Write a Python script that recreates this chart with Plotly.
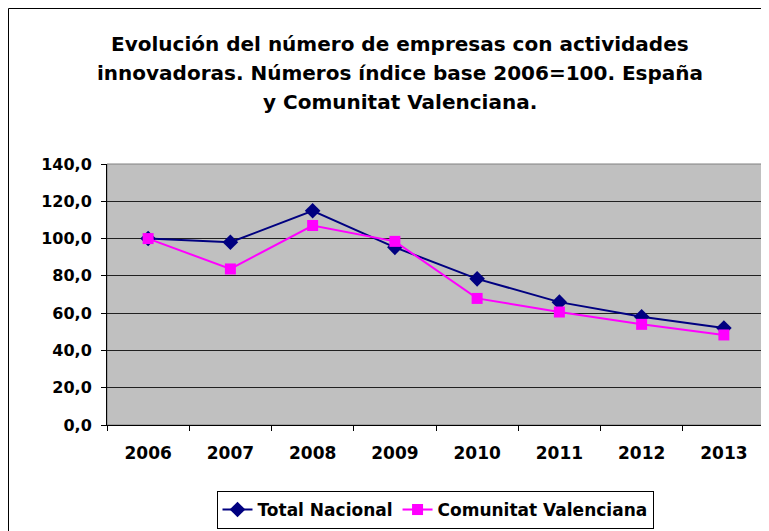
import plotly.graph_objects as go

years = ["2006", "2007", "2008", "2009", "2010", "2011", "2012", "2013"]
total_nacional = [100.0, 98.0, 114.9, 95.3, 78.4, 65.9, 58.1, 52.0]
comunitat_valenciana = [100.0, 83.7, 107.0, 98.5, 67.9, 60.6, 54.0, 48.3]
y_ticks = [0, 20, 40, 60, 80, 100, 120, 140]
y_tick_labels = ["0,0", "20,0", "40,0", "60,0", "80,0", "100,0", "120,0", "140,0"]
title_lines = [
    "Evolución del número de empresas con actividades",
    "innovadoras. Números índice base 2006=100. España",
    "y Comunitat Valenciana.",
]

OFF = 8  # page body margin
W, H = 769 - OFF, 531 - OFF
# plot area in screen coordinates
SX0, SX1, SY0, SY1 = 107, 765, 164, 425
L, R, T, B = SX0 - OFF, (W + OFF) - SX1, SY0 - OFF, (H + OFF) - SY1
pw, ph = SX1 - SX0, SY1 - SY0

def px(x):
    return (x - SX0) / pw

def py(y):
    return (SY1 - y) / ph

def bold(s):
    return "<b>" + s + "</b>"

fig = go.Figure()
fig.add_trace(go.Scatter(
    x=years, y=total_nacional, name=bold("Total Nacional"), mode="lines+markers",
    line=dict(color="#000080", width=2),
    marker=dict(symbol="diamond", size=12, color="#000080"),
))
fig.add_trace(go.Scatter(
    x=years, y=comunitat_valenciana, name=bold("Comunitat Valenciana"), mode="lines+markers",
    line=dict(color="#FF00FF", width=2),
    marker=dict(symbol="square", size=11, color="#FF00FF"),
))

fig.update_layout(
    width=W, height=H,
    margin=dict(l=L, r=R, t=T, b=B, autoexpand=False),
    paper_bgcolor="white", plot_bgcolor="#C0C0C0",
    showlegend=True,
    legend=dict(
        orientation="h", x=px(435), xanchor="center", y=py(491), yanchor="top",
        bordercolor="black", borderwidth=1, bgcolor="white",
        font=dict(family="DejaVu Sans", size=17, color="black"),
        tracegroupgap=0,
    ),
    xaxis=dict(
        type="category", range=[-0.5, 7.5], tickson="boundaries",
        tickvals=years, ticktext=[bold(y) for y in years],
        ticks="outside", ticklen=5, tickcolor="black",
        showline=True, linecolor="black", linewidth=1,
        showgrid=False, tickfont=dict(family="DejaVu Sans", size=17, color="black"),
        ticklabelstandoff=13,
    ),
    yaxis=dict(
        range=[0, 140], tickvals=y_ticks, ticktext=[bold(t) for t in y_tick_labels],
        ticks="outside", ticklen=5, tickcolor="black",
        showline=True, linecolor="black", linewidth=1,
        showgrid=True, gridcolor="#202020", gridwidth=1,
        tickfont=dict(family="DejaVu Sans", size=16, color="black"),
        ticklabelstandoff=6, zeroline=False,
    ),
)

# plot area border (gray)
fig.add_shape(type="rect", xref="paper", yref="paper", x0=0, y0=0, x1=1, y1=1,
              line=dict(color="#808080", width=1), layer="below")
# outer chart frame
fig.add_shape(type="rect", xref="paper", yref="paper",
              x0=px(8.5), y0=py(560), x1=px(800), y1=py(8.5),
              line=dict(color="black", width=1), layer="below")

for line, yc in zip(title_lines, [44, 73, 102]):
    fig.add_annotation(
        text=bold(line), xref="paper", yref="paper", x=px(400), y=py(yc),
        xanchor="center", yanchor="middle", showarrow=False,
        font=dict(family="DejaVu Sans", size=20, color="black"),
    )

fig.write_html("out.html")
